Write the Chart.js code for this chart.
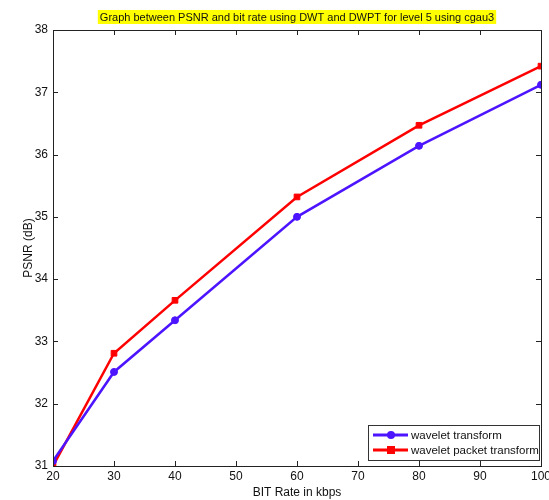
<!DOCTYPE html>
<html><head><meta charset="utf-8">
<script src="https://cdn.jsdelivr.net/npm/chart.js@4"></script>
<style>html,body{margin:0;padding:0;background:#fff}#wrap{width:549px;height:500px}</style>
</head><body><div id="wrap"><canvas id="c" width="549" height="500"></canvas></div>
<script>
const bitRates = [20, 30, 40, 60, 80, 100];
const waveletPSNR = [31.08, 32.51, 33.34, 35.0, 36.14, 37.12];
const packetPSNR = [31.0, 32.81, 33.66, 35.32, 36.47, 37.42];
const xTicks = [20, 30, 40, 50, 60, 70, 80, 90, 100];
const yTicks = [31, 32, 33, 34, 35, 36, 37, 38];
const titleText = 'Graph between PSNR and bit rate using DWT and DWPT for level 5 using cgau3';
const xTitle = 'BIT Rate in kbps';
const yTitle = 'PSNR (dB)';
const seriesNames = ['wavelet transform', 'wavelet packet transform'];

const FONT = '"Liberation Sans", Arial, sans-serif';

const framePlugin = {
  id: 'frame',
  afterDatasetsDraw(chart) {
    const {ctx, chartArea: a, scales: {x, y}} = chart;
    ctx.save();
    ctx.strokeStyle = '#222';
    ctx.lineWidth = 1;
    ctx.beginPath();
    xTicks.forEach(v => {
      const px = Math.round(x.getPixelForValue(v)) + 0.5;
      ctx.moveTo(px, a.bottom); ctx.lineTo(px, a.bottom - 5);
      ctx.moveTo(px, a.top); ctx.lineTo(px, a.top + 5);
    });
    yTicks.forEach(v => {
      const py = Math.round(y.getPixelForValue(v)) + 0.5;
      ctx.moveTo(a.left, py); ctx.lineTo(a.left + 5, py);
      ctx.moveTo(a.right, py); ctx.lineTo(a.right - 5, py);
    });
    ctx.stroke();
    ctx.strokeStyle = '#222';
    ctx.strokeRect(Math.round(a.left) + 0.5, Math.round(a.top) + 0.5, Math.round(a.right - a.left), Math.round(a.bottom - a.top));

    // legend
    const lx = 368, ly = 425, lw = 171, lh = 35;
    ctx.fillStyle = '#fff';
    ctx.fillRect(lx, ly, lw, lh);
    ctx.strokeStyle = '#333';
    ctx.strokeRect(lx + 0.5, ly + 0.5, lw, lh);
    ctx.font = '11.5px ' + FONT;
    ctx.textBaseline = 'middle';
    chart.data.datasets.forEach((ds, i) => {
      const yy = ly + 10 + i * 15;
      ctx.strokeStyle = ds.borderColor;
      ctx.lineWidth = 3;
      ctx.beginPath(); ctx.moveTo(373, yy); ctx.lineTo(408, yy); ctx.stroke();
      ctx.fillStyle = ds.borderColor;
      if (ds.pointStyle === 'rect') {
        ctx.fillRect(387, yy - 4, 8, 8);
      } else {
        ctx.beginPath(); ctx.arc(391, yy, 4, 0, Math.PI * 2); ctx.fill();
      }
      ctx.fillStyle = '#111';
      ctx.fillText(ds.label, 411, yy + 0.5);
    });

    // y title
    ctx.save();
    ctx.font = '12px ' + FONT;
    ctx.textAlign = 'center';
    ctx.textBaseline = 'middle';
    ctx.fillStyle = '#111';
    ctx.translate(29, (a.top + a.bottom) / 2);
    ctx.rotate(-Math.PI / 2);
    ctx.fillText(yTitle, 0, 0);
    ctx.restore();

    // title
    ctx.font = '11px ' + FONT;
    ctx.textAlign = 'center';
    ctx.textBaseline = 'middle';
    const tw = ctx.measureText(titleText).width;
    const cx = (a.left + a.right) / 2;
    ctx.fillStyle = '#ffff00';
    ctx.fillRect(cx - tw / 2 - 2, 10, tw + 4, 14);
    ctx.fillStyle = '#111';
    ctx.fillText(titleText, cx, 17.5);
    ctx.restore();
  }
};

new Chart(document.getElementById('c'), {
  type: 'line',
  data: {
    datasets: [
      {label: seriesNames[0], data: bitRates.map((b, i) => ({x: b, y: waveletPSNR[i]})),
       borderColor: '#4d14ff', backgroundColor: '#4d14ff', borderWidth: 2.5,
       pointStyle: 'circle', pointRadius: 3.5, pointBorderWidth: 1, tension: 0},
      {label: seriesNames[1], data: bitRates.map((b, i) => ({x: b, y: packetPSNR[i]})),
       borderColor: '#ff0000', backgroundColor: '#ff0000', borderWidth: 2.5,
       pointStyle: 'rect', pointRadius: 4, pointBorderWidth: 1, tension: 0}
    ]
  },
  options: {
    responsive: false,
    animation: false,
    events: [],
    layout: {padding: {top: 30, right: 8, left: 0, bottom: 0}},
    plugins: {legend: {display: false}, title: {display: false}, tooltip: {enabled: false}},
    scales: {
      x: {
        type: 'linear', min: 20, max: 100,
        afterBuildTicks: s => { s.ticks = xTicks.map(v => ({value: v})); },
        afterFit: s => { s.height = 34; s.paddingLeft = 0; s.paddingRight = 0; },
        grid: {display: false, drawTicks: false},
        border: {display: false},
        ticks: {color: '#111', font: {family: FONT, size: 12}, padding: 3, maxRotation: 0, autoSkip: false},
        title: {display: true, text: xTitle, color: '#111', font: {family: FONT, size: 12}, padding: {top: 2, bottom: 0}}
      },
      y: {
        type: 'linear', min: 31, max: 38,
        afterBuildTicks: s => { s.ticks = yTicks.map(v => ({value: v})); },
        afterFit: s => { s.width = 53; s.paddingTop = 0; s.paddingBottom = 0; },
        grid: {display: false, drawTicks: false},
        border: {display: false},
        ticks: {color: '#111', font: {family: FONT, size: 12}, padding: 5, autoSkip: false},
        title: {display: false}
      }
    }
  },
  plugins: [framePlugin]
});
</script>
</body></html>
